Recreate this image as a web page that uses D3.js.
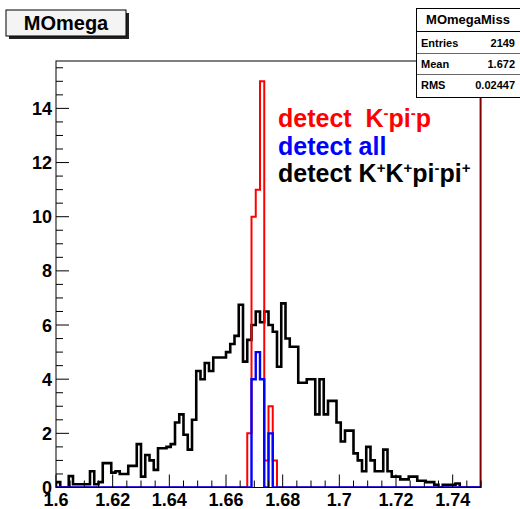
<!DOCTYPE html>
<html>
<head>
<meta charset="utf-8">
<script src="https://cdn.jsdelivr.net/npm/d3@7"></script>
<style>
  body { margin: 0; background: #fff; }
  svg { display: block; font-family: "Liberation Sans", Arial, Helvetica, sans-serif; }
</style>
</head>
<body>
<svg width="520" height="509"></svg>
<script>
// Histogram binning (100 bins from 1.6 to 1.75)
const xMin = 1.6, xMax = 1.75, nBins = 100;

// black: detect K+K+pi-pi+ (scaled)
const blackVals = [
  0.2, 0, 0, 0.42, 0.12, 0.12, 0.12, 0.12, 0.6, 0.12,
  0.2, 0.9, 0.9, 0.55, 0.6, 0.5, 0.5, 0.8, 0.8, 1.6,
  0.4, 1.2, 1.0, 0.65, 1.45, 1.45, 1.5, 1.6, 2.4, 2.7,
  1.95, 1.4, 2.5, 4.3, 4.0, 4.6, 4.3, 4.8, 4.8, 4.8,
  5.0, 5.3, 5.6, 6.75, 4.65, 5.45, 6.0, 6.5, 6.1, 6.5,
  6.0, 5.75, 4.46, 6.8, 5.5, 5.2, 5.2, 3.87, 3.87, 4.0,
  4.0, 2.7, 4.0, 2.7, 3.2, 3.2, 2.4, 1.7, 2.1, 2.1,
  1.26, 1.0, 0.6, 1.5, 1.0, 0.6, 0.6, 1.4, 0.6, 0.4,
  0.4, 0.3, 0.3, 0.4, 0.4, 0.25, 0.25, 0.2, 0.2, 0.1,
  0, 0.1, 0.1, 0.1, 0.15, 0, 0, 0, 0, 0
];
// red: detect K-pi-p
const redVals = [
  0, 0, 0, 0, 0, 0, 0, 0, 0, 0,   0, 0, 0, 0, 0, 0, 0, 0, 0, 0,
  0, 0, 0, 0, 0, 0, 0, 0, 0, 0,   0, 0, 0, 0, 0, 0, 0, 0, 0, 0,
  0, 0, 0, 0, 0, 2, 10, 11, 15, 1, 3, 1, 0, 0, 0, 0, 0, 0, 0, 0,
  0, 0, 0, 0, 0, 0, 0, 0, 0, 0,   0, 0, 0, 0, 0, 0, 0, 0, 0, 0,
  0, 0, 0, 0, 0, 0, 0, 0, 0, 0,   0, 0, 0, 0, 0, 0, 0, 0, 0, 0
];
// blue: detect all
const blueVals = [
  0, 0, 0, 0, 0, 0, 0, 0, 0, 0,   0, 0, 0, 0, 0, 0, 0, 0, 0, 0,
  0, 0, 0, 0, 0, 0, 0, 0, 0, 0,   0, 0, 0, 0, 0, 0, 0, 0, 0, 0,
  0, 0, 0, 0, 0, 0, 4, 5, 4, 0,   2, 0, 0, 0, 0, 0, 0, 0, 0, 0,
  0, 0, 0, 0, 0, 0, 0, 0, 0, 0,   0, 0, 0, 0, 0, 0, 0, 0, 0, 0,
  0, 0, 0, 0, 0, 0, 0, 0, 0, 0,   0, 0, 0, 0, 0, 0, 0, 0, 0, 0
];

const xTicks = [1.6, 1.62, 1.64, 1.66, 1.68, 1.7, 1.72, 1.74];
const yTicks = [0, 2, 4, 6, 8, 10, 12, 14];
const yMax = 15.75;

const statsRows = [["Entries", "2149"], ["Mean", "1.672"], ["RMS", "0.02447"]];

// legend entries: [text, superscript] pieces
const legendItems = [
  { color: "#ff0000", parts: [["detect\u00a0\u00a0K", "-"], ["pi", "-"], ["p", ""]] },
  { color: "#0000ff", parts: [["detect all", ""]] },
  { color: "#000000", parts: [["detect K", "+"], ["K", "+"], ["pi", "-"], ["pi", "+"]] }
];

// frame
const frame = { left: 56, right: 481, top: 61, bottom: 487.5 };

const svg = d3.select("svg");

const x = d3.scaleLinear().domain([xMin, xMax]).range([frame.left, frame.right]);
const y = d3.scaleLinear().domain([0, yMax]).range([frame.bottom, frame.top]);

const binW = (xMax - xMin) / nBins;

svg.append("defs").append("clipPath").attr("id", "clip")
  .append("rect")
  .attr("x", frame.left).attr("y", frame.top)
  .attr("width", frame.right - frame.left).attr("height", frame.bottom - frame.top);

// step path like ROOT "hist" drawing
function histPoints(vals) {
  const pts = [[xMin, 0]];
  vals.forEach((v, i) => pts.push([xMin + i * binW, v]));
  pts.push([xMax, vals[vals.length - 1]]);
  pts.push([xMax, 0]);
  return pts;
}
const line = d3.line()
  .x(d => x(d[0]))
  .y(d => y(d[1]))
  .curve(d3.curveStepAfter);

const plot = svg.append("g").attr("clip-path", "url(#clip)");

plot.append("path")
  .attr("d", line(histPoints(blackVals)))
  .attr("fill", "none").attr("stroke", "#000").attr("stroke-width", 2.6);

plot.append("path")
  .attr("d", line(histPoints(redVals)))
  .attr("fill", "none").attr("stroke", "#ff0000").attr("stroke-width", 2);

// red line at the upper edge of the range
plot.append("line")
  .attr("x1", x(xMax) - 0.5).attr("x2", x(xMax) - 0.5)
  .attr("y1", y(0)).attr("y2", y(yMax))
  .attr("stroke", "#ff0000").attr("stroke-width", 2);

plot.append("path")
  .attr("d", line(histPoints(blueVals)))
  .attr("fill", "none").attr("stroke", "#0000ff").attr("stroke-width", 2.4);

// frame
svg.append("rect")
  .attr("x", frame.left).attr("y", frame.top)
  .attr("width", frame.right - frame.left).attr("height", frame.bottom - frame.top)
  .attr("fill", "none").attr("stroke", "#000").attr("stroke-width", 1);

// axes: ROOT style ticks inside the frame
const yAxis = svg.append("g");
const yMinor = d3.range(0, yMax, 0.5);
yAxis.selectAll(".ymin").data(yMinor).enter().append("line")
  .attr("x1", frame.left).attr("x2", d => frame.left + (d % 2 === 0 ? 13 : 7))
  .attr("y1", d => y(d)).attr("y2", d => y(d))
  .attr("stroke", "#000").attr("stroke-width", 1);
yAxis.selectAll(".ylab").data(yTicks).enter().append("text")
  .attr("x", frame.left - 4).attr("y", d => y(d)).attr("dy", "0.36em")
  .attr("text-anchor", "end")
  .style("font-size", "18px").style("font-weight", "bold")
  .text(d => d);

const xAxis = svg.append("g");
const xMinor = d3.range(0, 31).map(i => xMin + i * 0.005);
xAxis.selectAll(".xmin").data(xMinor).enter().append("line")
  .attr("x1", d => x(d)).attr("x2", d => x(d))
  .attr("y1", frame.bottom)
  .attr("y2", (d, i) => frame.bottom - (i % 4 === 0 ? 13 : 7))
  .attr("stroke", "#000").attr("stroke-width", 1);
xAxis.selectAll(".xlab").data(xTicks).enter().append("text")
  .attr("x", d => x(d)).attr("y", 506)
  .attr("text-anchor", "middle")
  .style("font-size", "18px").style("font-weight", "bold")
  .text(d => +d.toFixed(2));

// legend
const legend = svg.append("g").style("font-weight", "bold").style("font-size", "25px");
legendItems.forEach((item, i) => {
  const t = legend.append("text")
    .attr("x", 278).attr("y", 127 + i * 27.5)
    .attr("fill", item.color);
  let shift = 0;
  item.parts.forEach(([main, sup]) => {
    t.append("tspan").attr("dy", -shift).text(main);
    shift = 0;
    if (sup) {
      t.append("tspan").attr("dy", -9).style("font-size", "15px").text(sup);
      shift = -9;
    }
  });
});

// title box with shadow
svg.append("rect").attr("x", 9).attr("y", 13).attr("width", 120).attr("height", 26).attr("fill", "#222");
svg.append("rect").attr("x", 6).attr("y", 10).attr("width", 120).attr("height", 26)
  .attr("fill", "#f4f4f4").attr("stroke", "#000").attr("stroke-width", 1);
svg.append("text").attr("x", 66).attr("y", 30).attr("text-anchor", "middle")
  .style("font-size", "20px").style("font-weight", "bold").text("MOmega");

// stats box
const stats = svg.append("g");
stats.append("rect").attr("x", 416.5).attr("y", 8.5).attr("width", 110).attr("height", 89)
  .attr("fill", "#fff").attr("stroke", "#000").attr("stroke-width", 1);
stats.append("text").attr("x", 468).attr("y", 24).attr("text-anchor", "middle")
  .style("font-size", "13px").style("font-weight", "bold").text("MOmegaMiss");
stats.append("line").attr("x1", 416).attr("x2", 520).attr("y1", 31.5).attr("y2", 31.5).attr("stroke", "#000");
statsRows.forEach(([k, v], i) => {
  const yy = 47 + i * 21;
  stats.append("text").attr("x", 421).attr("y", yy)
    .style("font-size", "11px").style("font-weight", "bold").text(k);
  stats.append("text").attr("x", 515).attr("y", yy).attr("text-anchor", "end")
    .style("font-size", "11px").style("font-weight", "bold").text(v);
  if (i < statsRows.length - 1) {
    stats.append("line").attr("x1", 416).attr("x2", 520)
      .attr("y1", yy + 6.5).attr("y2", yy + 6.5).attr("stroke", "#000").attr("stroke-width", 0.6);
  }
});
</script>
</body>
</html>
